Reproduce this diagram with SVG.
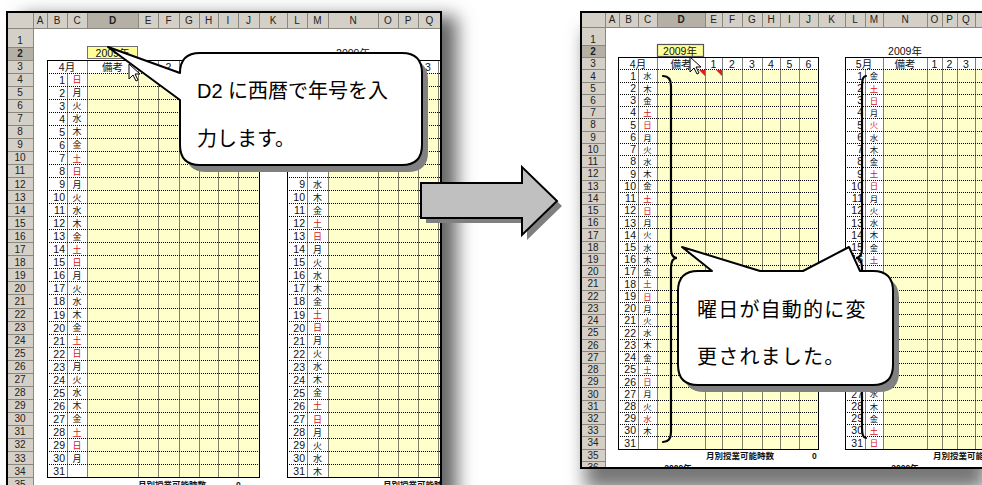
<svg xmlns="http://www.w3.org/2000/svg" width="982" height="485" viewBox="0 0 982 485">
<style>
text{font-family:"Liberation Sans","Noto Sans CJK JP",sans-serif}
.hd{fill:#d4d0c8}
.hs{fill:#b4b0a6}
.hl{font-size:10px;fill:#222;text-anchor:middle}
.d{font-size:10.5px;text-anchor:end;fill:#111}
.w{font-size:9px;text-anchor:middle;fill:#111;font-family:"Noto Sans CJK JP",sans-serif}
.w2{font-size:8.4px;text-anchor:middle;fill:#111;font-family:"Noto Sans CJK JP",sans-serif}
.r{fill:#d42020}
.th{font-size:10.5px;text-anchor:middle;fill:#111}
.dot{fill:none;stroke:#000;stroke-width:1;stroke-dasharray:1 1}
.gl{fill:none;stroke:#8a877f;stroke-width:1}
.yl{fill:#ffffcc}
.tb{fill:none;stroke:#000;stroke-width:1}
.fr{fill:none;stroke:#000;stroke-width:2}
.ct{font-size:20px;fill:#000}
.sm{font-size:8.5px;fill:#111;font-weight:bold}
.br{fill:none;stroke:#000;stroke-width:2.2;stroke-linecap:round}
.cur{fill:#fff;stroke:#000;stroke-width:1}
.co{fill:#fff;stroke:#000;stroke-width:2;stroke-linejoin:round}
.cs{fill:#808080}
</style>
<defs>
<filter id="blur" x="-20%" y="-20%" width="140%" height="140%"><feGaussianBlur stdDeviation="9"/></filter>
<clipPath id="clipL"><rect x="7" y="12" width="434" height="480"/></clipPath>
<clipPath id="clipR"><rect x="581" y="12" width="401" height="456"/></clipPath>
</defs>
<rect width="982" height="485" fill="#fff"/>

<g id="sheet-before">
<rect x="21" y="16" width="436" height="490" fill="#666" filter="url(#blur)"/>
<rect x="7" y="12" width="434" height="480" fill="#fff"/>
<g clip-path="url(#clipL)">
<rect class="hd" x="7" y="12" width="434" height="16"/>
<rect class="hd" x="7" y="28" width="26" height="470"/>
<rect class="hs" x="87" y="12" width="51" height="16"/>
<rect class="hs" x="7" y="47.5" width="26" height="13"/>
<path class="gl" d="M33.5 12V28M47.5 12V28M67.5 12V28M87.5 12V28M138.5 12V28M158.5 12V28M179.5 12V28M199.5 12V28M218.5 12V28M238.5 12V28M259.5 12V28M287.5 12V28M307.5 12V28M328.5 12V28M378.5 12V28M398.5 12V28M418.5 12V28M7 28.5H441M33.5 28V492"/>
<path class="gl" d="M7 47.5H33M7 60.5H33M7 73.5H33M7 86.5H33M7 99.5H33M7 112.5H33M7 125.5H33M7 138.5H33M7 151.5H33M7 164.5H33M7 177.5H33M7 190.5H33M7 203.5H33M7 216.5H33M7 229.5H33M7 242.5H33M7 255.5H33M7 268.5H33M7 281.5H33M7 294.5H33M7 308.5H33M7 321.5H33M7 334.5H33M7 347.5H33M7 360.5H33M7 373.5H33M7 386.5H33M7 399.5H33M7 412.5H33M7 425.5H33M7 438.5H33M7 451.5H33M7 464.5H33M7 477.5H33M7 490.5H33"/>
<g class="hl">
<text y="24"><tspan x="40">A</tspan><tspan x="57">B</tspan><tspan x="77">C</tspan><tspan x="112.5" font-weight="bold">D</tspan><tspan x="148">E</tspan><tspan x="168.5">F</tspan><tspan x="189">G</tspan><tspan x="208.5">H</tspan><tspan x="228">I</tspan><tspan x="248.5">J</tspan><tspan x="273">K</tspan><tspan x="297">L</tspan><tspan x="317.5">M</tspan><tspan x="353">N</tspan><tspan x="388">O</tspan><tspan x="408">P</tspan><tspan x="429.5">Q</tspan></text>
<text><tspan x="20" y="44.2">1</tspan><tspan x="20" y="57" font-weight="bold">2</tspan><tspan x="20" dy="13.05">3</tspan><tspan x="20" dy="13.05">4</tspan><tspan x="20" dy="13.05">5</tspan><tspan x="20" dy="13.05">6</tspan><tspan x="20" dy="13.05">7</tspan><tspan x="20" dy="13.05">8</tspan><tspan x="20" dy="13.05">9</tspan><tspan x="20" dy="13.05">10</tspan><tspan x="20" dy="13.05">11</tspan><tspan x="20" dy="13.05">12</tspan><tspan x="20" dy="13.05">13</tspan><tspan x="20" dy="13.05">14</tspan><tspan x="20" dy="13.05">15</tspan><tspan x="20" dy="13.05">16</tspan><tspan x="20" dy="13.05">17</tspan><tspan x="20" dy="13.05">18</tspan><tspan x="20" dy="13.05">19</tspan><tspan x="20" dy="13.05">20</tspan><tspan x="20" dy="13.05">21</tspan><tspan x="20" dy="13.05">22</tspan><tspan x="20" dy="13.05">23</tspan><tspan x="20" dy="13.05">24</tspan><tspan x="20" dy="13.05">25</tspan><tspan x="20" dy="13.05">26</tspan><tspan x="20" dy="13.05">27</tspan><tspan x="20" dy="13.05">28</tspan><tspan x="20" dy="13.05">29</tspan><tspan x="20" dy="13.05">30</tspan><tspan x="20" dy="13.05">31</tspan><tspan x="20" dy="13.05">32</tspan><tspan x="20" dy="13.05">33</tspan><tspan x="20" dy="13.05">34</tspan><tspan x="20" dy="13.05">35</tspan></text>
</g>
<rect class="yl" x="87" y="73.5" width="172" height="404"/>
<rect class="yl" x="328" y="73.5" width="113" height="404"/>
<rect x="87.5" y="46.5" width="50" height="12" fill="#ffff99" stroke="#707070"/>
<text class="th" x="112.5" y="57">2009年</text>
<text class="th" x="353" y="57">2009年</text>
<path class="dot" d="M47 86.5H259M287 86.5H441M47 99.5H259M287 99.5H441M47 112.5H259M287 112.5H441M47 125.5H259M287 125.5H441M47 138.5H259M287 138.5H441M47 151.5H259M287 151.5H441M47 164.5H259M287 164.5H441M47 177.5H259M287 177.5H441M47 190.5H259M287 190.5H441M47 203.5H259M287 203.5H441M47 216.5H259M287 216.5H441M47 229.5H259M287 229.5H441M47 242.5H259M287 242.5H441M47 255.5H259M287 255.5H441M47 268.5H259M287 268.5H441M47 281.5H259M287 281.5H441M47 294.5H259M287 294.5H441M47 308.5H259M287 308.5H441M47 321.5H259M287 321.5H441M47 334.5H259M287 334.5H441M47 347.5H259M287 347.5H441M47 360.5H259M287 360.5H441M47 373.5H259M287 373.5H441M47 386.5H259M287 386.5H441M47 399.5H259M287 399.5H441M47 412.5H259M287 412.5H441M47 425.5H259M287 425.5H441M47 438.5H259M287 438.5H441M47 451.5H259M287 451.5H441M47 464.5H259M287 464.5H441M47 73.5H259M287 73.5H441"/>
<path class="dot" d="M67.5 73.5V477.5M87.5 60.5V477.5M138.5 60.5V477.5M158.5 60.5V477.5M179.5 60.5V477.5M199.5 60.5V477.5M218.5 60.5V477.5M238.5 60.5V477.5M307.5 73.5V477.5M328.5 60.5V477.5M378.5 60.5V477.5M398.5 60.5V477.5M418.5 60.5V477.5M438.5 60.5V477.5"/>
<rect class="tb" x="47.5" y="60.5" width="212" height="417"/>
<rect class="tb" x="287.5" y="60.5" width="160" height="417"/>
<text class="th" y="70.5"><tspan x="67">4月</tspan><tspan x="112.5">備考</tspan><tspan x="148">1</tspan><tspan x="168.5">2</tspan><tspan x="428">3</tspan></text>
<text class="d"><tspan x="65" y="83.6">1</tspan><tspan x="65" dy="13.05">2</tspan><tspan x="65" dy="13.05">3</tspan><tspan x="65" dy="13.05">4</tspan><tspan x="65" dy="13.05">5</tspan><tspan x="65" dy="13.05">6</tspan><tspan x="65" dy="13.05">7</tspan><tspan x="65" dy="13.05">8</tspan><tspan x="65" dy="13.05">9</tspan><tspan x="65" dy="13.05">10</tspan><tspan x="65" dy="13.05">11</tspan><tspan x="65" dy="13.05">12</tspan><tspan x="65" dy="13.05">13</tspan><tspan x="65" dy="13.05">14</tspan><tspan x="65" dy="13.05">15</tspan><tspan x="65" dy="13.05">16</tspan><tspan x="65" dy="13.05">17</tspan><tspan x="65" dy="13.05">18</tspan><tspan x="65" dy="13.05">19</tspan><tspan x="65" dy="13.05">20</tspan><tspan x="65" dy="13.05">21</tspan><tspan x="65" dy="13.05">22</tspan><tspan x="65" dy="13.05">23</tspan><tspan x="65" dy="13.05">24</tspan><tspan x="65" dy="13.05">25</tspan><tspan x="65" dy="13.05">26</tspan><tspan x="65" dy="13.05">27</tspan><tspan x="65" dy="13.05">28</tspan><tspan x="65" dy="13.05">29</tspan><tspan x="65" dy="13.05">30</tspan><tspan x="65" dy="13.05">31</tspan></text>
<text class="w"><tspan x="77" y="83.2" class="r">日</tspan><tspan x="77" dy="13.05">月</tspan><tspan x="77" dy="13.05">火</tspan><tspan x="77" dy="13.05">水</tspan><tspan x="77" dy="13.05">木</tspan><tspan x="77" dy="13.05">金</tspan><tspan x="77" dy="13.05" class="r">土</tspan><tspan x="77" dy="13.05" class="r">日</tspan><tspan x="77" dy="13.05">月</tspan><tspan x="77" dy="13.05">火</tspan><tspan x="77" dy="13.05">水</tspan><tspan x="77" dy="13.05">木</tspan><tspan x="77" dy="13.05">金</tspan><tspan x="77" dy="13.05" class="r">土</tspan><tspan x="77" dy="13.05" class="r">日</tspan><tspan x="77" dy="13.05">月</tspan><tspan x="77" dy="13.05">火</tspan><tspan x="77" dy="13.05">水</tspan><tspan x="77" dy="13.05">木</tspan><tspan x="77" dy="13.05">金</tspan><tspan x="77" dy="13.05" class="r">土</tspan><tspan x="77" dy="13.05" class="r">日</tspan><tspan x="77" dy="13.05">月</tspan><tspan x="77" dy="13.05">火</tspan><tspan x="77" dy="13.05">水</tspan><tspan x="77" dy="13.05">木</tspan><tspan x="77" dy="13.05">金</tspan><tspan x="77" dy="13.05" class="r">土</tspan><tspan x="77" dy="13.05" class="r">日</tspan><tspan x="77" dy="13.05">月</tspan></text>
<text class="d"><tspan x="305" y="188">9</tspan><tspan x="305" dy="13.05">10</tspan><tspan x="305" dy="13.05">11</tspan><tspan x="305" dy="13.05">12</tspan><tspan x="305" dy="13.05">13</tspan><tspan x="305" dy="13.05">14</tspan><tspan x="305" dy="13.05">15</tspan><tspan x="305" dy="13.05">16</tspan><tspan x="305" dy="13.05">17</tspan><tspan x="305" dy="13.05">18</tspan><tspan x="305" dy="13.05">19</tspan><tspan x="305" dy="13.05">20</tspan><tspan x="305" dy="13.05">21</tspan><tspan x="305" dy="13.05">22</tspan><tspan x="305" dy="13.05">23</tspan><tspan x="305" dy="13.05">24</tspan><tspan x="305" dy="13.05">25</tspan><tspan x="305" dy="13.05">26</tspan><tspan x="305" dy="13.05">27</tspan><tspan x="305" dy="13.05">28</tspan><tspan x="305" dy="13.05">29</tspan><tspan x="305" dy="13.05">30</tspan><tspan x="305" dy="13.05">31</tspan></text>
<text class="w"><tspan x="317.5" y="187.6">水</tspan><tspan x="317.5" dy="13.05">木</tspan><tspan x="317.5" dy="13.05">金</tspan><tspan x="317.5" dy="13.05" class="r">土</tspan><tspan x="317.5" dy="13.05" class="r">日</tspan><tspan x="317.5" dy="13.05">月</tspan><tspan x="317.5" dy="13.05">火</tspan><tspan x="317.5" dy="13.05">水</tspan><tspan x="317.5" dy="13.05">木</tspan><tspan x="317.5" dy="13.05">金</tspan><tspan x="317.5" dy="13.05" class="r">土</tspan><tspan x="317.5" dy="13.05" class="r">日</tspan><tspan x="317.5" dy="13.05">月</tspan><tspan x="317.5" dy="13.05">火</tspan><tspan x="317.5" dy="13.05">水</tspan><tspan x="317.5" dy="13.05">木</tspan><tspan x="317.5" dy="13.05">金</tspan><tspan x="317.5" dy="13.05" class="r">土</tspan><tspan x="317.5" dy="13.05" class="r">日</tspan><tspan x="317.5" dy="13.05">月</tspan><tspan x="317.5" dy="13.05">火</tspan><tspan x="317.5" dy="13.05">水</tspan><tspan x="317.5" dy="13.05">木</tspan></text>
<text class="sm" x="172" y="488" text-anchor="middle">月別授業可能時数</text>
<text class="sm" x="236" y="488">0</text>
<text class="sm" x="383" y="488">月別授業可能時数</text>
<path class="cur" d="M129 64V79L133 75L136 81L138 80L135 74L140 74Z"/>
</g>
<rect class="fr" x="7" y="12" width="434" height="490"/>
</g>

<g id="sheet-after">
<rect x="585" y="30" width="401" height="460" fill="#777" filter="url(#blur)"/>
<rect x="581" y="12" width="401" height="456" fill="#fff"/>
<g clip-path="url(#clipR)">
<rect class="hd" x="581" y="12" width="401" height="15"/>
<rect class="hd" x="581" y="27" width="24" height="441"/>
<rect class="hs" x="657" y="12" width="48" height="15"/>
<rect class="hs" x="581" y="45.5" width="24" height="12"/>
<path class="gl" d="M605.5 12V27M619.5 12V27M638.5 12V27M657.5 12V27M705.5 12V27M722.5 12V27M742.5 12V27M762.5 12V27M780.5 12V27M799.5 12V27M818.5 12V27M845.5 12V27M865.5 12V27M883.5 12V27M927.5 12V27M942.5 12V27M957.5 12V27M975.5 12V27M581 27.5H982M605.5 27V468"/>
<path class="gl" d="M581 45.5H605M581 57.5H605M581 69.5H605M581 82.5H605M581 94.5H605M581 106.5H605M581 118.5H605M581 131.5H605M581 143.5H605M581 155.5H605M581 167.5H605M581 180.5H605M581 192.5H605M581 204.5H605M581 216.5H605M581 228.5H605M581 241.5H605M581 253.5H605M581 265.5H605M581 277.5H605M581 290.5H605M581 302.5H605M581 314.5H605M581 326.5H605M581 339.5H605M581 351.5H605M581 363.5H605M581 375.5H605M581 387.5H605M581 400.5H605M581 412.5H605M581 424.5H605M581 436.5H605M581 449.5H605M581 461.5H605"/>
<g class="hl">
<text y="23"><tspan x="612">A</tspan><tspan x="628.5">B</tspan><tspan x="647.5">C</tspan><tspan x="681" font-weight="bold">D</tspan><tspan x="713.5">E</tspan><tspan x="732">F</tspan><tspan x="752">G</tspan><tspan x="771">H</tspan><tspan x="789.5">I</tspan><tspan x="808.5">J</tspan><tspan x="831.5">K</tspan><tspan x="855">L</tspan><tspan x="874">M</tspan><tspan x="905">N</tspan><tspan x="934.5">O</tspan><tspan x="949.5">P</tspan><tspan x="966">Q</tspan></text>
<text><tspan x="593" y="42.5">1</tspan><tspan x="593" y="55.1" font-weight="bold">2</tspan><tspan x="593" dy="12.23">3</tspan><tspan x="593" dy="12.23">4</tspan><tspan x="593" dy="12.23">5</tspan><tspan x="593" dy="12.23">6</tspan><tspan x="593" dy="12.23">7</tspan><tspan x="593" dy="12.23">8</tspan><tspan x="593" dy="12.23">9</tspan><tspan x="593" dy="12.23">10</tspan><tspan x="593" dy="12.23">11</tspan><tspan x="593" dy="12.23">12</tspan><tspan x="593" dy="12.23">13</tspan><tspan x="593" dy="12.23">14</tspan><tspan x="593" dy="12.23">15</tspan><tspan x="593" dy="12.23">16</tspan><tspan x="593" dy="12.23">17</tspan><tspan x="593" dy="12.23">18</tspan><tspan x="593" dy="12.23">19</tspan><tspan x="593" dy="12.23">20</tspan><tspan x="593" dy="12.23">21</tspan><tspan x="593" dy="12.23">22</tspan><tspan x="593" dy="12.23">23</tspan><tspan x="593" dy="12.23">24</tspan><tspan x="593" dy="12.23">25</tspan><tspan x="593" dy="12.23">26</tspan><tspan x="593" dy="12.23">27</tspan><tspan x="593" dy="12.23">28</tspan><tspan x="593" dy="12.23">29</tspan><tspan x="593" dy="12.23">30</tspan><tspan x="593" dy="12.23">31</tspan><tspan x="593" dy="12.23">32</tspan><tspan x="593" dy="12.23">33</tspan><tspan x="593" dy="12.23">34</tspan><tspan x="593" dy="12.23">35</tspan><tspan x="593" dy="12.23">36</tspan></text>
</g>
<rect class="yl" x="657" y="69.5" width="161" height="380"/>
<rect class="yl" x="883" y="69.5" width="99" height="380"/>
<rect x="657.5" y="44.5" width="46" height="12" fill="#ffff99" stroke="#555" stroke-width="1.2"/>
<text class="th" x="680" y="54.5">2009年</text>
<text class="th" x="905" y="54.5">2009年</text>
<path class="dot" d="M618 82.5H818M845 82.5H982M618 94.5H818M845 94.5H982M618 106.5H818M845 106.5H982M618 118.5H818M845 118.5H982M618 131.5H818M845 131.5H982M618 143.5H818M845 143.5H982M618 155.5H818M845 155.5H982M618 167.5H818M845 167.5H982M618 180.5H818M845 180.5H982M618 192.5H818M845 192.5H982M618 204.5H818M845 204.5H982M618 216.5H818M845 216.5H982M618 228.5H818M845 228.5H982M618 241.5H818M845 241.5H982M618 253.5H818M845 253.5H982M618 265.5H818M845 265.5H982M618 277.5H818M845 277.5H982M618 290.5H818M845 290.5H982M618 302.5H818M845 302.5H982M618 314.5H818M845 314.5H982M618 326.5H818M845 326.5H982M618 339.5H818M845 339.5H982M618 351.5H818M845 351.5H982M618 363.5H818M845 363.5H982M618 375.5H818M845 375.5H982M618 387.5H818M845 387.5H982M618 400.5H818M845 400.5H982M618 412.5H818M845 412.5H982M618 424.5H818M845 424.5H982M618 436.5H818M845 436.5H982M618 69.5H818M845 69.5H982"/>
<path class="dot" d="M638.5 69.5V449.5M657.5 57.5V449.5M705.5 57.5V449.5M722.5 57.5V449.5M742.5 57.5V449.5M762.5 57.5V449.5M780.5 57.5V449.5M799.5 57.5V449.5M865.5 69.5V449.5M883.5 57.5V449.5M927.5 57.5V449.5M942.5 57.5V449.5M957.5 57.5V449.5M975.5 57.5V449.5"/>
<rect class="tb" x="618.5" y="57.5" width="200" height="392"/>
<rect class="tb" x="845.5" y="57.5" width="160" height="392"/>
<text class="th" y="67.5"><tspan x="638">4月</tspan><tspan x="681">備考</tspan><tspan x="713.5">1</tspan><tspan x="732">2</tspan><tspan x="752">3</tspan><tspan x="771">4</tspan><tspan x="789.5">5</tspan><tspan x="808.5">6</tspan><tspan x="864">5月</tspan><tspan x="905">備考</tspan><tspan x="934.5">1</tspan><tspan x="949.5">2</tspan><tspan x="966">3</tspan></text>
<path fill="#d42020" d="M699 70H705V76ZM716 70H722V76Z"/>
<text class="d"><tspan x="636" y="79.8">1</tspan><tspan x="636" dy="12.23">2</tspan><tspan x="636" dy="12.23">3</tspan><tspan x="636" dy="12.23">4</tspan><tspan x="636" dy="12.23">5</tspan><tspan x="636" dy="12.23">6</tspan><tspan x="636" dy="12.23">7</tspan><tspan x="636" dy="12.23">8</tspan><tspan x="636" dy="12.23">9</tspan><tspan x="636" dy="12.23">10</tspan><tspan x="636" dy="12.23">11</tspan><tspan x="636" dy="12.23">12</tspan><tspan x="636" dy="12.23">13</tspan><tspan x="636" dy="12.23">14</tspan><tspan x="636" dy="12.23">15</tspan><tspan x="636" dy="12.23">16</tspan><tspan x="636" dy="12.23">17</tspan><tspan x="636" dy="12.23">18</tspan><tspan x="636" dy="12.23">19</tspan><tspan x="636" dy="12.23">20</tspan><tspan x="636" dy="12.23">21</tspan><tspan x="636" dy="12.23">22</tspan><tspan x="636" dy="12.23">23</tspan><tspan x="636" dy="12.23">24</tspan><tspan x="636" dy="12.23">25</tspan><tspan x="636" dy="12.23">26</tspan><tspan x="636" dy="12.23">27</tspan><tspan x="636" dy="12.23">28</tspan><tspan x="636" dy="12.23">29</tspan><tspan x="636" dy="12.23">30</tspan><tspan x="636" dy="12.23">31</tspan></text>
<text class="w2"><tspan x="647.5" y="79.4">水</tspan><tspan x="647.5" dy="12.23">木</tspan><tspan x="647.5" dy="12.23">金</tspan><tspan x="647.5" dy="12.23" class="r">土</tspan><tspan x="647.5" dy="12.23" class="r">日</tspan><tspan x="647.5" dy="12.23">月</tspan><tspan x="647.5" dy="12.23">火</tspan><tspan x="647.5" dy="12.23">水</tspan><tspan x="647.5" dy="12.23">木</tspan><tspan x="647.5" dy="12.23">金</tspan><tspan x="647.5" dy="12.23" class="r">土</tspan><tspan x="647.5" dy="12.23" class="r">日</tspan><tspan x="647.5" dy="12.23">月</tspan><tspan x="647.5" dy="12.23">火</tspan><tspan x="647.5" dy="12.23">水</tspan><tspan x="647.5" dy="12.23">木</tspan><tspan x="647.5" dy="12.23">金</tspan><tspan x="647.5" dy="12.23" class="r">土</tspan><tspan x="647.5" dy="12.23" class="r">日</tspan><tspan x="647.5" dy="12.23">月</tspan><tspan x="647.5" dy="12.23">火</tspan><tspan x="647.5" dy="12.23">水</tspan><tspan x="647.5" dy="12.23">木</tspan><tspan x="647.5" dy="12.23">金</tspan><tspan x="647.5" dy="12.23" class="r">土</tspan><tspan x="647.5" dy="12.23" class="r">日</tspan><tspan x="647.5" dy="12.23">月</tspan><tspan x="647.5" dy="12.23">火</tspan><tspan x="647.5" dy="12.23" class="r">水</tspan><tspan x="647.5" dy="12.23">木</tspan></text>
<text class="d"><tspan x="863" y="79.8">1</tspan><tspan x="863" dy="12.23">2</tspan><tspan x="863" dy="12.23">3</tspan><tspan x="863" dy="12.23">4</tspan><tspan x="863" dy="12.23">5</tspan><tspan x="863" dy="12.23">6</tspan><tspan x="863" dy="12.23">7</tspan><tspan x="863" dy="12.23">8</tspan><tspan x="863" dy="12.23">9</tspan><tspan x="863" dy="12.23">10</tspan><tspan x="863" dy="12.23">11</tspan><tspan x="863" dy="12.23">12</tspan><tspan x="863" dy="12.23">13</tspan><tspan x="863" dy="12.23">14</tspan><tspan x="863" dy="12.23">15</tspan><tspan x="863" dy="12.23">16</tspan></text>
<text class="d"><tspan x="863" y="397.8">27</tspan><tspan x="863" dy="12.23">28</tspan><tspan x="863" dy="12.23">29</tspan><tspan x="863" dy="12.23">30</tspan><tspan x="863" dy="12.23">31</tspan></text>
<text class="w2"><tspan x="874" y="79.4">金</tspan><tspan x="874" dy="12.23" class="r">土</tspan><tspan x="874" dy="12.23" class="r">日</tspan><tspan x="874" dy="12.23">月</tspan><tspan x="874" dy="12.23" class="r">火</tspan><tspan x="874" dy="12.23">水</tspan><tspan x="874" dy="12.23">木</tspan><tspan x="874" dy="12.23">金</tspan><tspan x="874" dy="12.23" class="r">土</tspan><tspan x="874" dy="12.23" class="r">日</tspan><tspan x="874" dy="12.23">月</tspan><tspan x="874" dy="12.23">火</tspan><tspan x="874" dy="12.23">水</tspan><tspan x="874" dy="12.23">木</tspan><tspan x="874" dy="12.23">金</tspan><tspan x="874" dy="12.23" class="r">土</tspan></text>
<text class="w2"><tspan x="874" y="397.4">水</tspan><tspan x="874" dy="12.23">木</tspan><tspan x="874" dy="12.23">金</tspan><tspan x="874" dy="12.23" class="r">土</tspan><tspan x="874" dy="12.23" class="r">日</tspan></text>
<text class="sm" x="740" y="458.5" text-anchor="middle">月別授業可能時数</text>
<text class="sm" x="812" y="458.5">0</text>
<text class="sm" x="933" y="458.5">月別授業可能時数</text>
<text class="sm" x="678" y="471" text-anchor="middle">2009年</text>
<text class="sm" x="905" y="471" text-anchor="middle">2009年</text>
<path class="cur" d="M690 57V72L694 68L697 74L699 73L696 67L701 67Z"/>
</g>
<rect class="fr" x="581" y="12" width="410" height="456"/>
</g>

<g id="connectors">
<path class="br" d="M663 76Q671 76 671 86V248Q671 258 677 258Q671 258 671 268V432Q671 442 663 442"/>
<path class="br" d="M866 76Q862 76 862 86V248Q862 258 856 258Q862 258 862 268V428Q862 438 866 438"/>
<g id="arrow">
<path class="cs" d="M426 188H527V172L562 206L527 240V223H426Z"/>
<path fill="#c0c0c0" stroke="#000" stroke-width="2" stroke-linejoin="miter" d="M421 183H522V167L557 201L522 235V218H421Z"/>
</g>
</g>

<g id="callout-left">
<path class="cs" transform="translate(6,7)" d="M180 73Q180 53 200 53H402Q422 53 422 73V145Q422 165 402 165H200Q180 165 180 145V100Z"/>
<path class="co" d="M108 47L180 73Q180 53 200 53H402Q422 53 422 73V145Q422 165 402 165H200Q180 165 180 145V100Z"/>
<text class="ct" x="197" y="98">D2 に西暦で年号を入</text>
<text class="ct" x="197" y="146">力します。</text>
</g>

<g id="callout-right">
<path class="cs" transform="translate(6,7)" d="M678 291Q678 271 698 271H873Q893 271 893 291V365Q893 385 873 385H698Q678 385 678 365Z"/>
<path class="co" d="M678 291Q678 271 698 271H712L682 247L760 271H803L849 247L860 271H873Q893 271 893 291V365Q893 385 873 385H698Q678 385 678 365Z"/>
<text class="ct" x="697" y="317" letter-spacing="1.2">曜日が自動的に変</text>
<text class="ct" x="697" y="364" letter-spacing="1.2">更されました。</text>
</g>
</svg>
